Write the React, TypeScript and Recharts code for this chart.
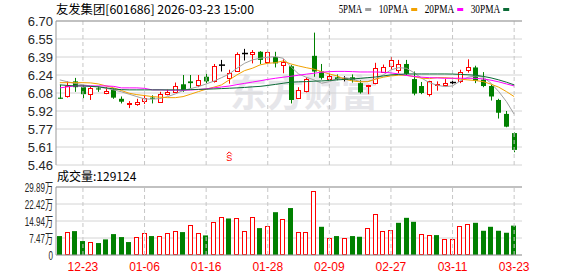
import React from "react";
import {
  ComposedChart,
  Bar,
  Line,
  XAxis,
  YAxis,
  CartesianGrid,
  ReferenceLine,
  ReferenceDot,
} from "recharts";

const dates = [
  "12-18", "12-19", "12-22", "12-23", "12-24", "12-25", "12-26", "12-29", "12-30", "12-31",
  "01-05", "01-06", "01-07", "01-08", "01-09", "01-12", "01-13", "01-14", "01-15", "01-16",
  "01-19", "01-20", "01-21", "01-22", "01-23", "01-26", "01-27", "01-28", "01-29", "01-30",
  "02-02", "02-03", "02-04", "02-05", "02-06", "02-09", "02-10", "02-11", "02-12", "02-13",
  "02-24", "02-25", "02-26", "02-27", "03-02", "03-03", "03-04", "03-05", "03-06", "03-09",
  "03-10", "03-11", "03-12", "03-13", "03-16", "03-17", "03-18", "03-19", "03-20", "03-23",
];

const opens = [
  6.04, 6.05, 6.18, 6.13, 6.07, 6.12, 6.08, 6.11, 6.03, 5.98,
  5.985, 6.005, 6.04, 6.005, 6.07, 6.09, 6.155, 6.18, 6.15, 6.22,
  6.19, 6.32, 6.21, 6.27, 6.42, 6.415, 6.435, 6.35, 6.39, 6.32,
  6.31, 6.04, 6.1, 6.4, 6.265, 6.2, 6.215, 6.2, 6.215, 6.165,
  6.135, 6.165, 6.265, 6.315, 6.28, 6.33, 6.2, 6.14, 6.065, 6.15,
  6.155, 6.17, 6.19, 6.275, 6.3, 6.195, 6.14, 6.02, 5.9, 5.735,
];

const highs = [
  6.15, 6.18, 6.21, 6.15, 6.135, 6.14, 6.13, 6.12, 6.05, 6.01,
  6.03, 6.06, 6.06, 6.09, 6.11, 6.17, 6.235, 6.235, 6.235, 6.245,
  6.33, 6.365, 6.28, 6.43, 6.46, 6.45, 6.44, 6.445, 6.435, 6.37,
  6.32, 6.13, 6.215, 6.6, 6.33, 6.25, 6.24, 6.225, 6.24, 6.19,
  6.15, 6.34, 6.325, 6.39, 6.365, 6.365, 6.265, 6.175, 6.185, 6.18,
  6.2, 6.19, 6.28, 6.37, 6.315, 6.26, 6.15, 6.03, 5.925, 5.74,
];

const lows = [
  6.03, 6.04, 6.09, 6.035, 6.02, 6.09, 6.07, 6.03, 5.99, 5.95,
  5.97, 5.985, 5.99, 6.0, 6.06, 6.08, 6.09, 6.12, 6.13, 6.165,
  6.17, 6.265, 6.16, 6.265, 6.36, 6.335, 6.33, 6.33, 6.3, 6.25,
  5.99, 6.03, 6.085, 6.22, 6.195, 6.19, 6.19, 6.18, 6.17, 6.075,
  6.07, 6.155, 6.255, 6.28, 6.25, 6.235, 6.06, 6.07, 6.05, 6.1,
  6.135, 6.13, 6.165, 6.255, 6.165, 6.13, 6.015, 5.86, 5.785, 5.57,
];

const closes = [
  6.03, 6.14, 6.13, 6.07, 6.12, 6.11, 6.1, 6.04, 6.005, 5.99,
  6.005, 6.035, 6.03, 6.07, 6.09, 6.14, 6.105, 6.165, 6.195, 6.18,
  6.315, 6.32, 6.255, 6.415, 6.42, 6.435, 6.365, 6.435, 6.335, 6.35,
  6.02, 6.11, 6.2, 6.265, 6.21, 6.225, 6.2, 6.2, 6.19, 6.085,
  6.145, 6.295, 6.305, 6.365, 6.33, 6.245, 6.075, 6.08, 6.18, 6.16,
  6.17, 6.17, 6.265, 6.3, 6.185, 6.14, 6.05, 5.91, 5.79, 5.59,
];

const volumes = [
  83200, 99200, 105000, 61300, 55400, 52500, 68600, 91900, 78800, 56900,
  77300, 94800, 83200, 81700, 96300, 103600, 100700, 129900, 94800, 86100,
  143000, 169200, 160500, 160500, 103600, 164900, 118200, 125500, 188200, 156100,
  206400, 102100, 102100, 280000, 124000, 73000, 83200, 73000, 83200, 80200,
  116700, 179500, 105000, 109400, 141500, 163400, 145900, 91900, 87500, 87500,
  70000, 70000, 126900, 135700, 141500, 106500, 124000, 106500, 97800, 129124,
];

const ma5 = [
  6.193, 6.176, 6.163, 6.15, 6.141, 6.133, 6.12, 6.107, 6.09, 6.07,
  6.049, 6.029, 6.027, 6.032, 6.049, 6.072, 6.101, 6.118, 6.135, 6.158,
  6.182, 6.212, 6.244, 6.293, 6.336, 6.365, 6.379, 6.388, 6.393, 6.379,
  6.307, 6.244, 6.216, 6.193, 6.164, 6.178, 6.201, 6.212, 6.199, 6.178,
  6.178, 6.201, 6.236, 6.279, 6.298, 6.293, 6.255, 6.207, 6.169, 6.147,
  6.135, 6.141, 6.184, 6.216, 6.227, 6.216, 6.164, 6.092, 6.006, 5.898,
];

const ma10 = [
  6.169, 6.169, 6.169, 6.169, 6.167, 6.158, 6.141, 6.124, 6.101, 6.078,
  6.066, 6.058, 6.049, 6.044, 6.04, 6.04, 6.049, 6.07, 6.092, 6.113,
  6.13, 6.15, 6.193, 6.236, 6.273, 6.293, 6.322, 6.336, 6.341, 6.356,
  6.33, 6.313, 6.298, 6.285, 6.264, 6.244, 6.227, 6.199, 6.184, 6.176,
  6.178, 6.199, 6.216, 6.227, 6.233, 6.233, 6.221, 6.207, 6.204, 6.212,
  6.212, 6.207, 6.199, 6.193, 6.187, 6.178, 6.156, 6.13, 6.092, 6.049,
];

const ma20 = [
  6.124, 6.133, 6.141, 6.141, 6.141, 6.141, 6.141, 6.137, 6.124, 6.124,
  6.124, 6.12, 6.107, 6.107, 6.104, 6.104, 6.104, 6.106, 6.11, 6.116,
  6.124, 6.132, 6.14, 6.152, 6.163, 6.174, 6.185, 6.197, 6.207, 6.216,
  6.224, 6.233, 6.242, 6.25, 6.259, 6.264, 6.266, 6.266, 6.264, 6.261,
  6.261, 6.261, 6.259, 6.253, 6.244, 6.231, 6.223, 6.216, 6.212, 6.21,
  6.207, 6.207, 6.207, 6.207, 6.206, 6.201, 6.19, 6.176, 6.158, 6.141,
];

const ma30 = [
  6.15, 6.145, 6.141, 6.141, 6.137, 6.133, 6.124, 6.115, 6.109, 6.107,
  6.107, 6.107, 6.107, 6.107, 6.107, 6.107, 6.107, 6.109, 6.111, 6.113,
  6.115, 6.118, 6.121, 6.124, 6.128, 6.133, 6.137, 6.145, 6.154, 6.164,
  6.173, 6.176, 6.178, 6.182, 6.184, 6.188, 6.193, 6.197, 6.201, 6.206,
  6.212, 6.218, 6.227, 6.236, 6.24, 6.244, 6.244, 6.244, 6.244, 6.244,
  6.244, 6.243, 6.24, 6.237, 6.233, 6.223, 6.21, 6.193, 6.173, 6.15,
];

const priceTicks = [5.46, 5.615, 5.77, 5.925, 6.08, 6.235, 6.39, 6.545, 6.7];
const priceTickLabels = ["5.46", "5.61", "5.77", "5.92", "6.08", "6.24", "6.39", "6.55", "6.70"];
const volumeTicks = [0, 74725, 149450, 224175, 298900];
const volumeTickLabels = ["0", "7.47万", "14.94万", "22.42万", "29.89万"];
const dateTicks = ["12-23", "01-06", "01-16", "01-28", "02-09", "02-27", "03-11", "03-23"];

const signalDate = "01-21";
const signalPrice = 5.53;

const maSeries = [
  { key: "ma5", name: "5PMA", color: "#a0a0a0", values: ma5 },
  { key: "ma10", name: "10PMA", color: "#f2a100", values: ma10 },
  { key: "ma20", name: "20PMA", color: "#ff00ff", values: ma20 },
  { key: "ma30", name: "30PMA", color: "#0b6b36", values: ma30 },
];

const UP = "#ff0000";
const DOWN = "#008000";
const FRAME = "#999999";
const GRID = "#d4d4d4";
const DASH = "#c6c6c6";
const axisFont = "Arial, 'Liberation Sans', sans-serif";
const cjkFont = "'Noto Sans CJK SC', 'Noto Sans', sans-serif";

const rows = dates.map((date, i) => {
  const row: any = {
    date,
    open: opens[i],
    high: highs[i],
    low: lows[i],
    close: closes[i],
    range: [lows[i], highs[i]],
    volume: volumes[i],
    up: i === 0 ? closes[i] >= opens[i] : closes[i] >= closes[i - 1],
  };
  maSeries.forEach((s) => {
    row[s.key] = s.values[i];
  });
  return row;
});

function Candle(props: any) {
  const { x, width, payload } = props;
  let { y, height } = props;
  if (height < 0) {
    y += height;
    height = -height;
  }
  const { open, close, high, low } = payload;
  const span = high - low || 1;
  const yAt = (v: number) => y + ((high - v) / span) * height;
  const cx = Math.round(x + width / 2);
  const top = yAt(Math.max(open, close));
  const bottom = yAt(Math.min(open, close));
  const color = close > open ? UP : close < open ? DOWN : "#000000";

  return (
    <g>
      <line x1={cx + 0.5} x2={cx + 0.5} y1={y} y2={y + height} stroke={color} strokeWidth={1} />
      {close > open && (
        <rect
          x={cx - 2 + 0.5}
          y={Math.round(top) + 0.5}
          width={4}
          height={Math.max(1, Math.round(bottom - top))}
          fill="#ffffff"
          stroke={color}
          strokeWidth={1}
        />
      )}
      {close < open && (
        <rect x={cx - 2} y={top} width={5} height={Math.max(1, bottom - top)} fill={color} />
      )}
      {close === open && (
        <line x1={cx - 2} x2={cx + 4} y1={top} y2={top} stroke={color} strokeWidth={1.5} />
      )}
    </g>
  );
}

function VolumeBar(props: any) {
  const { x, y, width, height, payload } = props;
  const left = Math.round(x);
  if (payload.up) {
    return (
      <rect
        x={left + 0.5}
        y={Math.round(y) + 0.5}
        width={width - 1}
        height={Math.max(0, Math.round(height) - 1)}
        fill="#ffffff"
        stroke={UP}
        strokeWidth={1}
      />
    );
  }
  return <rect x={left} y={y} width={width} height={height} fill={DOWN} />;
}

function SignalMark({ cx, cy }: any) {
  return (
    <g>
      <path d={`M${cx - 2.5} ${cy - 2.5} L${cx} ${cy - 5} L${cx + 2.5} ${cy - 2.5}`} stroke={UP} fill="none" />
      <text x={cx} y={cy + 4.5} textAnchor="middle" fontSize={9} fontFamily={axisFont} fill={UP}>
        S
      </text>
    </g>
  );
}

function PriceTick({ x, y, payload }: any) {
  const label = priceTickLabels[priceTicks.indexOf(payload.value)] ?? payload.value;
  return (
    <text x={x} y={y} dy="0.36em" textAnchor="end" fontSize={13} fontFamily={axisFont} fill="#262626">
      {label}
    </text>
  );
}

function VolumeTick({ x, y, payload }: any) {
  const label = volumeTickLabels[volumeTicks.indexOf(payload.value)] ?? payload.value;
  return (
    <text
      transform={`translate(${x},${y}) scale(0.62,1)`}
      dy="0.36em"
      textAnchor="end"
      fontSize={13}
      fontFamily={`${axisFont}, ${cjkFont}`}
      fill="#262626"
    >
      {label}
    </text>
  );
}

function DateTick({ x, y, payload }: any) {
  if (!dateTicks.includes(payload.value)) return <g />;
  return (
    <text x={x} y={y} dy="0.71em" textAnchor="middle" fontSize={12} fontFamily={axisFont} fill={UP}>
      {payload.value}
    </text>
  );
}

export default function App() {
  const lastVolume = volumes[volumes.length - 1];

  return (
    <div style={{ position: "absolute", left: 0, top: 0, width: 578, height: 276, background: "#ffffff", overflow: "hidden" }}>
      <svg width={578} height={276} style={{ position: "absolute", left: 0, top: 0 }}>
        <text x={230} y={107} fontSize={37} fontWeight={700} fontFamily={cjkFont} fill="#e6e6ea">
          东方财富
        </text>
      </svg>

      <div style={{ position: "absolute", left: 0, top: 0 }}>
        <ComposedChart width={578} height={276} data={rows} margin={{ top: 21, right: 56, bottom: 111, left: 0 }}>
          <CartesianGrid vertical={false} stroke={GRID} />
          <XAxis
            dataKey="date"
            height={0}
            tick={false}
            tickLine={false}
            axisLine={{ stroke: FRAME }}
            padding={{ left: 0, right: 4 }}
          />
          <YAxis
            domain={[5.46, 6.7]}
            ticks={priceTicks}
            interval={0}
            width={56}
            tickSize={1}
            tickMargin={2}
            tickLine={false}
            axisLine={{ stroke: FRAME }}
            tick={<PriceTick />}
            allowDataOverflow
          />
          <YAxis yAxisId="frame" orientation="right" width={0} domain={[0, 1]} tick={false} tickLine={false} axisLine={{ stroke: FRAME }} />
          {dateTicks.map((d) => (
            <ReferenceLine key={d} x={d} stroke={DASH} strokeDasharray="4 3" />
          ))}
          <ReferenceLine y={6.7} stroke={FRAME} />
          <Bar dataKey="range" shape={<Candle />} barSize={5} isAnimationActive={false} legendType="none" />
          {maSeries.map((s) => (
            <Line
              key={s.key}
              dataKey={s.key}
              stroke={s.color}
              strokeWidth={1}
              dot={false}
              activeDot={false}
              isAnimationActive={false}
            />
          ))}
          <ReferenceDot x={signalDate} y={signalPrice} shape={<SignalMark />} />
        </ComposedChart>
      </div>

      <div style={{ position: "absolute", left: 0, top: 0 }}>
        <ComposedChart width={578} height={276} data={rows} margin={{ top: 187, right: 56, bottom: 0, left: 0 }}>
          <CartesianGrid vertical={false} stroke={GRID} />
          <XAxis
            dataKey="date"
            height={21}
            interval={0}
            tick={<DateTick />}
            tickSize={1}
            tickMargin={6}
            tickLine={false}
            axisLine={{ stroke: FRAME }}
            padding={{ left: 0, right: 4 }}
          />
          <YAxis
            domain={[0, 298900]}
            ticks={volumeTicks}
            interval={0}
            width={56}
            tickSize={1}
            tickMargin={2}
            tickLine={false}
            axisLine={{ stroke: FRAME }}
            tick={<VolumeTick />}
          />
          <YAxis yAxisId="frame" orientation="right" width={0} domain={[0, 1]} tick={false} tickLine={false} axisLine={{ stroke: FRAME }} />
          {dateTicks.map((d) => (
            <ReferenceLine key={d} x={d} stroke={DASH} strokeDasharray="4 3" />
          ))}
          <ReferenceLine y={298900} stroke={FRAME} />
          <Bar dataKey="volume" shape={<VolumeBar />} barSize={5} isAnimationActive={false} />
        </ComposedChart>
      </div>

      <svg width={578} height={276} style={{ position: "absolute", left: 0, top: 0, pointerEvents: "none" }}>
        <text x={56} y={13.5} fontSize={12} fontFamily={cjkFont} fill="#000000" textLength={198} lengthAdjust="spacingAndGlyphs">
          友发集团[601686] 2026-03-23 15:00
        </text>
        {maSeries.map((s, i) => {
          const x0 = 338.7 + maSeries.slice(0, i).reduce((acc, p) => acc + p.name.length * 6 + 16, 0);
          const textWidth = s.name.length * 6 - 0.5;
          return (
            <g key={s.key}>
              <text x={x0} y={13.3} fontSize={12} fontFamily="'Liberation Serif', 'DejaVu Serif', serif" fill="#000000" textLength={textWidth} lengthAdjust="spacingAndGlyphs">
                {s.name}
              </text>
              <rect x={x0 + textWidth + 3} y={8} width={6} height={3} fill={s.color} />
            </g>
          );
        })}
        <text x={57} y={181} fontSize={12} fontFamily={cjkFont} fill="#000000">
          成交量:{lastVolume}
        </text>
      </svg>
    </div>
  );
}
